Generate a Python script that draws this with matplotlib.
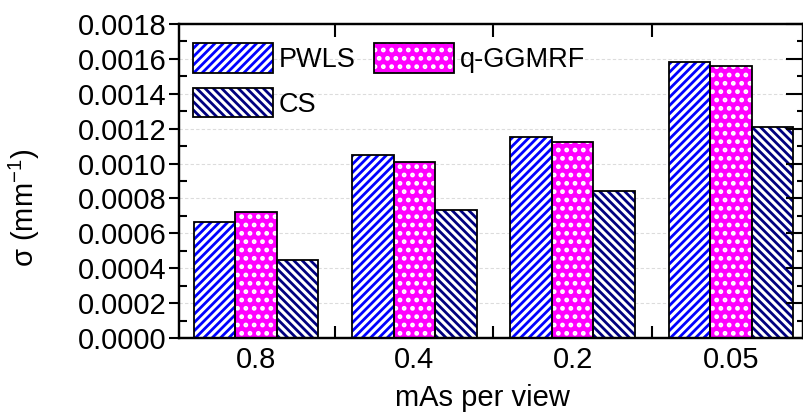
import matplotlib
matplotlib.use("Agg")
import matplotlib.pyplot as plt
from matplotlib.patches import Patch
from matplotlib.ticker import MultipleLocator, FormatStrFormatter, FixedLocator
import numpy as np

categories = ["0.8", "0.4", "0.2", "0.05"]
series_names = ["PWLS", "q-GGMRF", "CS"]
pwls = [0.000667, 0.001049, 0.001154, 0.001584]
qggmrf = [0.000724, 0.001010, 0.001125, 0.001561]
cs = [0.000447, 0.000734, 0.000843, 0.001211]
xlabel = "mAs per view"
ylabel = "σ (mm$^{-1}$)"

plt.rcParams['font.family'] = ['Liberation Sans', 'DejaVu Sans']
plt.rcParams['mathtext.fontset'] = 'custom'
plt.rcParams['mathtext.rm'] = 'Liberation Sans'
plt.rcParams['mathtext.it'] = 'Liberation Sans:italic'

fig = plt.figure(figsize=(8.04, 4.17), dpi=100)
W, H = 804, 417
ax = fig.add_axes([179 / W, 1 - 338 / H, (803 - 179) / W, (338 - 24) / H])

STRIPE_LW = 2.0
DOT_LW = 2.2
styles = [
    dict(face='white', hcol='#0000FF', hatch='////', hlw=STRIPE_LW),
    dict(face='#FF00FF', hcol='white', hatch='..', hlw=DOT_LW),
    dict(face='white', hcol='#000080', hatch='\\\\\\\\', hlw=STRIPE_LW),
]
data = [pwls, qggmrf, cs]
x = np.arange(len(categories))
bw = 0.262
handles = []
for i, (vals, st) in enumerate(zip(data, styles)):
    pos = x + (i - 1) * bw
    with plt.rc_context({'hatch.linewidth': st['hlw']}):
        bars = ax.bar(pos, vals, width=bw, color=st['face'], edgecolor=st['hcol'],
                      hatch=st['hatch'], linewidth=0, zorder=2)
        hp = Patch(facecolor=st['face'], edgecolor=st['hcol'], hatch=st['hatch'],
                   linewidth=0)
    for b in list(bars) + [hp]:
        if hasattr(b, 'set_hatch_linewidth'):
            b.set_hatch_linewidth(st['hlw'])
    ax.bar(pos, vals, width=bw, facecolor='none', edgecolor='black',
           linewidth=1.3, zorder=3)
    bp = Patch(facecolor='none', edgecolor='black', linewidth=1.3)
    handles.append((hp, bp))

ax.set_xlim(-0.486, 3.455)
ax.set_ylim(0, 0.0018)

ax.set_xticks(x)
ax.set_xticklabels(categories, fontsize=21)
ax.xaxis.set_minor_locator(FixedLocator([0.5, 1.5, 2.5]))
ax.tick_params(axis='x', which='major', length=0, pad=6)
ax.tick_params(axis='x', which='minor', direction='in', length=9, width=1.5,
               top=True, bottom=True)

ax.yaxis.set_major_locator(MultipleLocator(0.0002))
ax.yaxis.set_minor_locator(MultipleLocator(0.0001))
ax.yaxis.set_major_formatter(FormatStrFormatter('%.4f'))
ax.tick_params(axis='y', which='major', direction='out', length=7, width=1.5,
               labelsize=21, pad=2)
ax.tick_params(axis='y', which='minor', direction='in', length=6, width=1.5)

ax2 = ax.twinx()
ax2.set_ylim(ax.get_ylim())
ax2.yaxis.set_major_locator(MultipleLocator(0.0002))
ax2.yaxis.set_minor_locator(MultipleLocator(0.0001))
ax2.tick_params(axis='y', which='major', direction='in', length=12, width=1.5,
                labelright=False)
ax2.tick_params(axis='y', which='minor', direction='in', length=4, width=1.5)
for a in (ax, ax2):
    for s in a.spines.values():
        s.set_linewidth(1.6)

ax.yaxis.grid(True, which='major', color='#dcdcdc', linestyle=(0, (3, 2)),
              linewidth=0.8, zorder=0)
ax.set_axisbelow(True)

ax.set_xlabel(xlabel, fontsize=21)
ax.xaxis.set_label_coords((482 - 179) / 624, -0.145)
ax.set_ylabel(ylabel, fontsize=21)
ax.yaxis.set_label_coords((42 - 179) / 624, (338 - 208) / 314)

order = [0, 2, 1]
with plt.rc_context({'hatch.linewidth': STRIPE_LW}):
    leg = ax.legend([handles[k] for k in order], [series_names[k] for k in order],
                    ncol=2, loc='upper left',
                    bbox_to_anchor=(14 / 624, (338 - 43) / 314),
                    frameon=False, fontsize=19.5, handlelength=2.95, handleheight=1.3,
                    handletextpad=0.22, columnspacing=0.68, labelspacing=0.55,
                    borderpad=0, borderaxespad=0)
for p in leg.findobj(Patch):
    h = p.get_hatch()
    if h and hasattr(p, 'set_hatch_linewidth'):
        p.set_hatch_linewidth(DOT_LW if '.' in h else STRIPE_LW)
leg.set_zorder(5)

fig.savefig("out.png", dpi=100)
